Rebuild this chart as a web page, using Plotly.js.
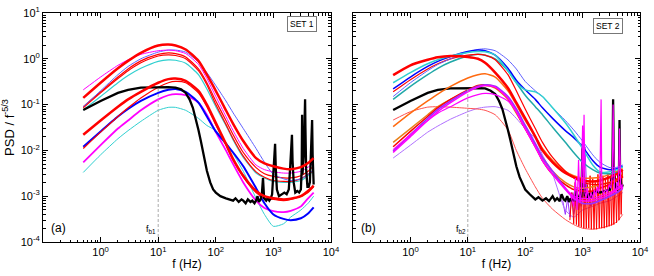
<!DOCTYPE html>
<html><head><meta charset="utf-8">
<script src="https://cdn.plot.ly/plotly-3.0.1.min.js"></script>
<style>html,body{margin:0;padding:0;background:#fff}#chart{width:654px;height:276px}</style>
</head><body><div id="chart"></div>
<script>
// ---------- data ----------
const freq = [0.5,1,2,3,5,10,15,20,30,50,70,100,150,200,300,500,700,1000,1500,2000,3000,4000,5000];
const xTickVals = [1,10,100,1000,10000];
const xTickText = ['10<sup>0</sup>','10<sup>1</sup>','10<sup>2</sup>','10<sup>3</sup>','10<sup>4</sup>'];
const yTickVals = [1e-4,1e-3,1e-2,1e-1,1,10];
const yTickText = ['10<sup>-4</sup>','10<sup>-3</sup>','10<sup>-2</sup>','10<sup>-1</sup>','10<sup>0</sup>','10<sup>1</sup>'];
const breakFreq = [10, 10];
const breakLevel = [1e-4, 0.24];

// SET 1 (panel a)
const a_redThick1 = [0.14,0.3,0.62,0.9,1.35,1.95,2.05,1.95,1.6,0.9,0.45,0.2,0.075,0.038,0.016,0.0068,0.0052,0.0045,0.004,0.0039,0.0043,0.0053,0.0068];
const a_magenta1  = [0.21,0.4,0.72,0.95,1.25,1.5,1.55,1.5,1.3,0.75,0.37,0.15,0.055,0.027,0.011,0.0048,0.0038,0.0034,0.0032,0.0032,0.0035,0.0043,0.0054];
const a_blueThin  = [0.09,0.2,0.45,0.68,1.0,1.4,1.55,1.55,1.4,0.85,0.5,0.26,0.12,0.066,0.03,0.011,0.0055,0.003,0.0024,0.0022,0.0024,0.003,0.0038];
const a_red2      = [0.09,0.19,0.4,0.6,0.9,1.25,1.35,1.3,1.1,0.6,0.3,0.12,0.045,0.022,0.009,0.0042,0.0031,0.0027,0.0025,0.0025,0.0028,0.0035,0.0046];
const a_red3      = [0.085,0.18,0.37,0.55,0.82,1.15,1.22,1.18,1.0,0.55,0.27,0.1,0.037,0.018,0.0075,0.0034,0.0026,0.0022,0.0021,0.0021,0.0024,0.003,0.0037];
const a_cyan1     = [0.076,0.15,0.3,0.43,0.62,0.88,0.95,0.93,0.8,0.45,0.22,0.09,0.035,0.017,0.007,0.0032,0.0025,0.0021,0.002,0.002,0.0022,0.0028,0.0036];
const a_redThick2 = [0.022,0.045,0.09,0.13,0.19,0.3,0.36,0.37,0.33,0.2,0.1,0.04,0.014,0.0065,0.0028,0.0013,0.001,0.0009,0.00085,0.00088,0.001,0.0013,0.0017];
const a_red4      = [0.011,0.025,0.055,0.085,0.14,0.24,0.3,0.32,0.3,0.18,0.09,0.036,0.013,0.006,0.0026,0.0012,0.0009,0.00085,0.0008,0.00085,0.001,0.0012,0.0016];
const a_blueThick = [0.012,0.026,0.055,0.08,0.12,0.18,0.21,0.22,0.19,0.11,0.055,0.026,0.014,0.009,0.0045,0.0015,0.0007,0.0004,0.00032,0.0003,0.00033,0.00042,0.00057];
const a_magThick  = [0.0055,0.013,0.03,0.045,0.075,0.13,0.16,0.17,0.16,0.11,0.06,0.025,0.01,0.005,0.002,0.0008,0.00055,0.00047,0.00045,0.00048,0.0006,0.0009,0.0012];
const a_cyan2     = [0.0033,0.008,0.018,0.027,0.043,0.075,0.087,0.087,0.075,0.05,0.035,0.027,0.015,0.0085,0.0035,0.0009,0.0004,0.00022,0.00025,0.00035,0.0005,0.0007,0.001];
const a_blackFreq = [0.5,1,2,3,5,10,15,20,25,30,35,40,45,50,55,60,65,70,80,90,100,120,150,170,200,220,250,280,300,330,360,400,430,470,500,530,560,600,630,660,690,750,800,850,900,950,1000,1040,1070,1100,1150,1250,1400,1550,1700,1850,1950,2050,2100,2150,2250,2400,2600,2800,3000,3100,3150,3200,3400,3500,3550,3600,3700,3900,4100,4300,4500,4600,4700,4800,4900,5000];
const a_black     = [0.076,0.12,0.18,0.21,0.235,0.24,0.24,0.235,0.215,0.18,0.13,0.085,0.05,0.028,0.016,0.009,0.0055,0.0036,0.002,0.0014,0.0012,0.001,0.0009,0.00085,0.0008,0.0009,0.00075,0.00085,0.0008,0.0007,0.00085,0.00075,0.0008,0.0007,0.0008,0.001,0.00075,0.00085,0.0011,0.0025,0.0009,0.0008,0.0009,0.0008,0.0009,0.0011,0.003,0.007,0.014,0.004,0.0014,0.001,0.0011,0.0012,0.0011,0.0014,0.004,0.012,0.022,0.006,0.002,0.0012,0.0013,0.0012,0.0014,0.004,0.06,0.003,0.01,0.06,0.13,0.03,0.004,0.0016,0.0016,0.002,0.01,0.03,0.046,0.008,0.0025,0.0018];

// SET 2 (panel b)
const b_redThick  = [0.44,0.72,0.95,1.08,1.15,1.1,1.0,0.82,0.5,0.23,0.11,0.05,0.02,0.01,0.0055,0.0032,0.0026,0.0022,0.0021,0.0022,0.0026,0.0031,0.0038];
const b_cyan      = [0.3,0.5,0.78,0.95,1.15,1.38,1.45,1.42,1.2,0.55,0.3,0.21,0.19,0.15,0.085,0.04,0.022,0.011,0.0048,0.0034,0.0034,0.0038,0.0044];
const b_blue      = [0.22,0.4,0.68,0.88,1.12,1.45,1.55,1.5,1.2,0.62,0.34,0.21,0.13,0.085,0.05,0.027,0.019,0.012,0.006,0.0043,0.0038,0.004,0.0045];
const b_blueThin  = [0.15,0.3,0.55,0.75,1.0,1.4,1.6,1.65,1.5,0.95,0.6,0.32,0.2,0.15,0.085,0.045,0.028,0.016,0.008,0.0055,0.0042,0.0043,0.0048];
const b_red2      = [0.19,0.35,0.6,0.78,1.0,1.2,1.25,1.2,0.95,0.45,0.2,0.08,0.03,0.015,0.007,0.0035,0.0025,0.002,0.0018,0.0018,0.002,0.0024,0.003];
const b_teal      = [0.13,0.25,0.45,0.62,0.85,1.15,1.25,1.2,1.0,0.55,0.3,0.16,0.09,0.06,0.032,0.015,0.009,0.0055,0.0038,0.0032,0.0031,0.0033,0.0037];
const b_orange    = [0.033,0.065,0.12,0.17,0.25,0.38,0.45,0.47,0.4,0.2,0.1,0.045,0.02,0.011,0.006,0.0035,0.0028,0.0025,0.0025,0.0026,0.003,0.0035,0.004];
const b_orange2   = [0.015,0.03,0.06,0.09,0.13,0.2,0.25,0.26,0.23,0.13,0.065,0.03,0.013,0.007,0.0035,0.002,0.0016,0.0015,0.0016,0.0018,0.002,0.0024,0.003];
const b_red3      = [0.012,0.026,0.055,0.085,0.13,0.21,0.26,0.27,0.24,0.14,0.07,0.03,0.012,0.006,0.003,0.0018,0.0014,0.0013,0.0013,0.0015,0.0018,0.0022,0.0027];
const b_purple    = [0.0095,0.022,0.05,0.078,0.12,0.2,0.25,0.27,0.25,0.15,0.08,0.035,0.014,0.007,0.0035,0.0015,0.0009,0.0007,0.0007,0.0008,0.001,0.0012,0.0015];
const b_magenta   = [0.0104,0.022,0.045,0.065,0.09,0.14,0.165,0.175,0.165,0.12,0.07,0.03,0.012,0.006,0.003,0.0015,0.001,0.0009,0.0009,0.001,0.0012,0.0015,0.0018];
const b_magenta2  = [0.009,0.02,0.045,0.07,0.11,0.19,0.24,0.26,0.24,0.14,0.07,0.03,0.012,0.006,0.003,0.0014,0.0009,0.0008,0.0008,0.0009,0.0011,0.0014,0.0017];
const b_purpleThin= [0.0068,0.013,0.025,0.034,0.048,0.07,0.083,0.088,0.09,0.075,0.05,0.03,0.018,0.008,0.003,0.0005,0.00035,0.0005,0.0006,0.0007,0.0008,0.001,0.0012];
const b_coral     = [0.046,0.07,0.088,0.09,0.088,0.083,0.08,0.075,0.06,0.028,0.01,0.004,0.0016,0.0009,0.00052,0.00031,0.00024,0.0002,0.00019,0.0002,0.00023,0.00028,0.0004];
const b_blackFreq = [0.5,1,2,3,5,10,15,20,25,30,35,40,45,50,55,60,70,80,100,120,150,170,200,230,260,300,330,360,400,430,470,500,540,580,620,660,700,750,800,850,900,950,1000,1050,1100,1150,1200,1300,1400,1500,1700,2000,2500,3000,3300,3400,3500,3700,4000,4300,4400,4500,4800,5000];
const b_black     = [0.076,0.12,0.18,0.21,0.225,0.23,0.23,0.225,0.2,0.17,0.12,0.08,0.048,0.028,0.017,0.01,0.0045,0.0026,0.0014,0.0011,0.00085,0.00095,0.0008,0.0009,0.00078,0.001,0.0008,0.0009,0.00078,0.0011,0.00085,0.0008,0.001,0.00075,0.0009,0.0008,0.0008,0.0014,0.00075,0.0009,0.0011,0.0009,0.014,0.003,0.001,0.0012,0.0009,0.0011,0.001,0.0012,0.0013,0.0012,0.0013,0.0014,0.003,0.13,0.004,0.0015,0.0014,0.003,0.046,0.003,0.0015,0.0018];
const b_redNoiseFreq = [600,650,700,740,780,820,860,900,950,1000,1050,1100,1160,1220,1280,1350,1420,1500,1580,1660,1750,1850,1950,2050,2150,2260,2380,2500,2630,2760,2900,3050,3200,3350,3500,3700,3900,4100,4300,4500,4700,4900,5000];
const b_redNoise     = [0.0003,0.0012,0.00025,0.002,0.00024,0.0015,0.00022,0.0025,0.00021,0.003,0.0002,0.0022,0.0002,0.0018,0.0002,0.0028,0.00019,0.0024,0.00019,0.002,0.00019,0.003,0.0002,0.0035,0.0002,0.0028,0.0002,0.0025,0.00021,0.003,0.00022,0.0028,0.00023,0.0035,0.00024,0.003,0.00026,0.0035,0.0003,0.004,0.0004,0.0035,0.0025];
const b_magNoiseFreq = [600,700,750,800,850,900,950,1000,1030,1060,1100,1150,1200,1300,1400,1500,1600,1700,1800,1900,2000,2100,2150,2200,2300,2500,2700,2900,3100,3300,3400,3500,3600,3800,4000,4200,4400,4600,4800,5000];
const b_magNoise     = [0.0012,0.0006,0.0025,0.0005,0.0062,0.0007,0.0012,0.035,0.0015,0.06,0.0012,0.0009,0.0015,0.0008,0.0012,0.0009,0.0014,0.001,0.0016,0.0012,0.002,0.13,0.003,0.0015,0.0011,0.0014,0.0012,0.0018,0.0015,0.003,0.1,0.004,0.0015,0.0012,0.002,0.0016,0.03,0.0018,0.0014,0.0016];
const b_purNoiseFreq = [450,500,550,600,650,700,750,800,850,900,950,1000,1050,1100,1200,1300,1400,1500];
const b_purNoise     = [0.0008,0.0004,0.0009,0.00035,0.0012,0.0004,0.0006,0.0015,0.0005,0.0009,0.0006,0.025,0.0008,0.012,0.0007,0.0009,0.0006,0.0008];

// ---------- traces ----------
const RED='#ff0000', MAG='#ff00ff', BLUE='#0000ff', LBLUE='#6060ff', CYAN='#30d0d0', TEAL='#20a8a8',
      ORANGE='#ff6a10', ORANGE2='#e8801a', PURPLE='#9a30ff', LPURPLE='#b070ff', CORAL='#ff5050';
function line(x, y, color, w, panel, smooth){
  return {type:'scatter', mode:'lines', x:x, y:y, xaxis: panel==='a'?'x':'x2', yaxis: panel==='a'?'y':'y2',
    line:{color:color, width:w, shape: smooth?'spline':'linear', smoothing:0.6}, hoverinfo:'skip', showlegend:false};
}
const traces = [
  line(freq,a_cyan2,CYAN,1,'a',true),
  line(freq,a_magThick,MAG,1.8,'a',true),
  line(freq,a_blueThick,BLUE,2,'a',true),
  line(freq,a_red4,RED,1.2,'a',true),
  line(freq,a_cyan1,CYAN,1.2,'a',true),
  line(freq,a_red3,RED,1.2,'a',true),
  line(freq,a_red2,RED,1.2,'a',true),
  line(freq,a_blueThin,LBLUE,1,'a',true),
  line(freq,a_magenta1,MAG,1,'a',true),
  line(a_blackFreq,a_black,'#000',2.3,'a',false),
  line(freq,a_redThick2,RED,2.5,'a',true),
  line(freq,a_redThick1,RED,2.5,'a',true),
  line(breakFreq,breakLevel,'#aaa',1,'a',false),

  line(b_purNoiseFreq,b_purNoise,PURPLE,1,'b',false),
  line(freq,b_purpleThin,LPURPLE,1,'b',true),
  line(freq,b_coral,CORAL,1,'b',true),
  line(b_redNoiseFreq,b_redNoise,RED,1,'b',false),
  line(b_blackFreq,b_black,'#000',2.3,'b',false),
  line(freq,b_orange2,ORANGE2,1.5,'b',true),
  line(freq,b_red3,RED,1.5,'b',true),
  line(freq,b_purple,PURPLE,1.8,'b',true),
  line(freq,b_magenta2,MAG,1.5,'b',true),
  line(freq,b_magenta,MAG,1.2,'b',true),
  line(freq,b_orange,ORANGE,1.5,'b',true),
  line(freq,b_teal,TEAL,1.5,'b',true),
  line(freq,b_red2,RED,1.2,'b',true),
  line(freq,b_blueThin,LBLUE,1,'b',true),
  line(freq,b_blue,BLUE,1.5,'b',true),
  line(freq,b_cyan,CYAN,1.5,'b',true),
  line(freq,b_redThick,RED,2.5,'b',true),
  line(b_magNoiseFreq,b_magNoise,MAG,1.2,'b',false),
  line(breakFreq,breakLevel,'#aaa',1,'b',false)
];
traces[12].line.dash='3px,2px';
traces[traces.length-1].line.dash='3px,2px';

// ---------- layout ----------
const minorVals = [];
for (let e=-5; e<5; e++) for (let d=2; d<10; d++) minorVals.push(d*Math.pow(10,e));
const FONT = 'Liberation Sans, Arial, sans-serif';
function xax(domain){
  return {type:'log', range:[-1,4], domain:domain, tickmode:'array', tickvals:xTickVals, ticktext:xTickText,
    ticks:'inside', ticklen:5, tickcolor:'#000', showline:true, linecolor:'#000', linewidth:1, mirror:'ticks',
    showgrid:false, zeroline:false, tickfont:{size:11,color:'#000'},
    minor:{tickmode:'array', tickvals:minorVals, ticks:'inside', ticklen:2.5, tickcolor:'#000', showgrid:false},
    title:{text:'f (Hz)', font:{size:12,color:'#000'}, standoff:2}, automargin:false};
}
function yax(anchor, labels){
  return {type:'log', range:[-4,1], domain:[0,1], anchor:anchor, tickmode:'array', tickvals:yTickVals, ticktext:yTickText,
    showticklabels:labels, ticks:'inside', ticklen:5, tickcolor:'#000', showline:true, linecolor:'#000', linewidth:1, mirror:'ticks',
    showgrid:false, zeroline:false, tickfont:{size:11,color:'#000'},
    minor:{tickmode:'array', tickvals:minorVals, ticks:'inside', ticklen:2.5, tickcolor:'#000', showgrid:false},
    automargin:false};
}
const layout = {
  width:654, height:276, margin:{l:43,r:14,t:13,b:34}, paper_bgcolor:'#fff', plot_bgcolor:'#fff',
  font:{family:FONT, color:'#000'}, showlegend:false,
  xaxis: xax([0,0.4824]), yaxis: Object.assign(yax('x',true), {title:{text:'PSD / f<sup>-5/3</sup>', font:{size:13,color:'#000'}, standoff:3}}),
  xaxis2: Object.assign(xax([0.5193,1]), {anchor:'y2'}), yaxis2: yax('x2',false),
  annotations:[
    {xref:'x domain', yref:'y domain', x:0.022, y:0.062, text:'(a)', showarrow:false, xanchor:'left', yanchor:'middle', font:{size:12}},
    {xref:'x2 domain', yref:'y2 domain', x:0.022, y:0.062, text:'(b)', showarrow:false, xanchor:'left', yanchor:'middle', font:{size:12}},
    {xref:'x domain', yref:'y domain', x:0.4, y:0.055, text:'f<sub>b1</sub>', showarrow:false, xanchor:'right', yanchor:'middle', font:{size:9}},
    {xref:'x2 domain', yref:'y2 domain', x:0.4, y:0.055, text:'f<sub>b2</sub>', showarrow:false, xanchor:'right', yanchor:'middle', font:{size:9}},
    {xref:'x domain', yref:'y domain', x:0.951, y:0.95, text:'SET 1', showarrow:false, xanchor:'right', yanchor:'middle', font:{size:8.5}, bordercolor:'#777', borderwidth:1, borderpad:2, bgcolor:'#fff'},
    {xref:'x2 domain', yref:'y2 domain', x:0.941, y:0.943, text:'SET 2', showarrow:false, xanchor:'right', yanchor:'middle', font:{size:8.5}, bordercolor:'#777', borderwidth:1, borderpad:2, bgcolor:'#fff'}
  ]
};
Plotly.newPlot('chart', traces, layout, {staticPlot:true, displayModeBar:false});
</script></body></html>
